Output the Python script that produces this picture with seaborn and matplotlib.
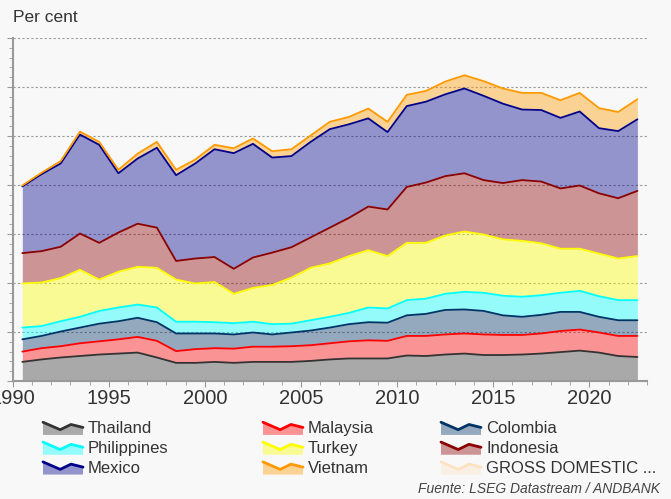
import numpy as np
import pandas as pd
import seaborn as sns
import matplotlib
matplotlib.use("Agg")
import matplotlib.pyplot as plt
from matplotlib.lines import Line2D
from matplotlib.patches import Polygon
from matplotlib.legend_handler import HandlerBase

years = list(range(1990, 2023))

# per-country values (stacked bottom -> top)
thailand = [3.9, 4.4, 4.8, 5.1, 5.4, 5.6, 5.8, 4.8, 3.7, 3.7, 3.9, 3.7, 3.9, 3.9, 3.9, 4.1, 4.4,
            4.6, 4.6, 4.6, 5.2, 5.1, 5.4, 5.6, 5.3, 5.3, 5.4, 5.6, 5.9, 6.2, 5.8, 5.1, 4.9]
malaysia = [2.1, 2.3, 2.3, 2.6, 2.7, 2.9, 3.2, 3.4, 2.4, 2.8, 2.8, 2.9, 3.1, 3.1, 3.2, 3.2, 3.3,
            3.5, 3.7, 3.6, 4.0, 4.1, 4.1, 4.1, 4.2, 4.1, 4.0, 4.1, 4.3, 4.3, 4.1, 4.1, 4.3]
colombia = [2.5, 2.5, 3.0, 3.2, 3.6, 3.7, 3.9, 3.8, 3.6, 3.2, 3.0, 2.9, 2.9, 2.5, 2.8, 3.0, 3.2,
            3.5, 3.7, 3.7, 4.2, 4.5, 5.0, 4.9, 4.8, 4.0, 3.7, 3.8, 3.9, 3.6, 3.2, 3.2, 3.2]
philippines = [2.4, 2.0, 2.1, 2.2, 2.6, 2.8, 2.7, 3.0, 2.4, 2.4, 2.3, 2.3, 2.2, 2.1, 1.8, 2.1, 2.2,
               2.3, 3.0, 2.9, 3.1, 3.1, 3.3, 3.6, 3.7, 4.0, 4.1, 4.0, 3.9, 4.3, 4.2, 4.1, 4.1]
turkey = [9.0, 8.9, 8.8, 9.6, 6.4, 7.3, 7.7, 8.1, 8.6, 7.8, 8.2, 6.0, 6.9, 8.0, 9.4, 10.7, 10.9,
          11.6, 11.7, 10.7, 11.7, 11.4, 11.9, 12.3, 11.9, 11.5, 11.4, 10.6, 9.0, 8.6, 8.7, 8.5, 9.0]
indonesia = [6.2, 6.4, 6.4, 7.4, 7.5, 8.0, 8.8, 8.2, 3.8, 5.1, 5.1, 5.1, 6.2, 6.6, 6.2, 6.2, 7.3,
             7.8, 8.9, 9.5, 11.4, 12.3, 12.1, 11.9, 11.1, 11.5, 12.4, 12.6, 12.3, 12.9, 12.3, 12.3, 13.3]
mexico = [13.6, 15.7, 17.0, 20.2, 20.0, 12.1, 13.3, 16.3, 17.5, 19.4, 22.0, 23.6, 23.2, 19.4, 18.6,
          19.5, 20.1, 19.1, 18.0, 15.8, 16.5, 16.5, 16.7, 17.3, 17.2, 16.2, 14.4, 14.6, 14.4, 15.1,
          13.3, 13.7, 14.6]
vietnam = [0.2, 0.3, 0.5, 0.6, 0.6, 0.7, 1.0, 1.2, 1.1, 0.8, 0.9, 1.0, 1.1, 1.3, 1.4, 1.3, 1.5,
           1.5, 2.0, 2.1, 2.3, 2.2, 2.6, 2.7, 3.0, 3.1, 3.4, 3.5, 3.6, 3.8, 4.1, 3.9, 4.1]

names = ["Thailand", "Malaysia", "Colombia", "Philippines", "Turkey",
         "Indonesia", "Mexico", "Vietnam"]
colors = ["#333333", "#ff0000", "#003366", "#00ffff", "#ffff00",
          "#8b0000", "#00008b", "#ff9900"]
gdp_label = "GROSS DOMESTIC ..."
gdp_color = "#fde2c2"

df = pd.DataFrame(dict(zip(names, [thailand, malaysia, colombia, philippines,
                                    turkey, indonesia, mexico, vietnam])), index=years)
cum = df.cumsum(axis=1)
x = np.array(years) + 0.5

sns.set_style("white")
plt.rcParams["font.family"] = ["Liberation Sans", "DejaVu Sans"]

bg = "#f8f8f8"
fig = plt.figure(figsize=(6.71, 4.99), dpi=100, facecolor=bg)
ax = fig.add_axes([12.7 / 671, 118 / 499, (647 - 12.7) / 671, (381 - 38) / 499])
ax.set_facecolor(bg)

prev = np.zeros(len(years))
for name, col in zip(names, colors):
    top = cum[name].values
    ax.fill_between(x, prev, top, color=col, alpha=0.4, lw=0, zorder=2)
    prev = top
for name, col in zip(names, colors):
    sns.lineplot(x=x, y=cum[name].values, color=col, lw=1.3, ax=ax, zorder=3)

ax.set_xlim(1990, 2023)
ax.set_ylim(0, 70)
ax.set_xticks(range(1990, 2021, 5))
ax.set_xticks(range(1990, 2024), minor=True)
ax.set_yticks(range(0, 71, 10))
ax.set_yticks(range(0, 71, 2), minor=True)
ax.set_yticklabels([])
ax.tick_params(axis="x", which="major", length=4, color="#999999", labelsize=14.5,
               labelcolor="#333333", pad=2, bottom=True)
ax.tick_params(axis="x", which="minor", length=3, color="#999999", bottom=True)
ax.tick_params(axis="y", which="major", length=4, color="#999999", left=True)
ax.tick_params(axis="y", which="minor", length=3, color="#999999", left=True)
ax.grid(False)
for v in range(10, 71, 10):
    ax.axhline(v, color="#999999", lw=0.8, ls=(0, (2, 2)), zorder=1)
for s in ["top", "right"]:
    ax.spines[s].set_visible(False)
for s in ["left", "bottom"]:
    ax.spines[s].set_color("#999999")
    ax.spines[s].set_linewidth(1.5)
ax.set_xlabel("")
ax.set_ylabel("")


class AreaHandler(HandlerBase):
    def create_artists(self, legend, orig_handle, xd, yd, w, h, fontsize, trans):
        col = orig_handle.get_color()
        fx = [0, 0.43, 0.7, 1.0]
        fy = [0.85, 0.35, 0.7, 0.5]
        xs = [-xd + f * w for f in fx]
        ys = [-yd + f * h for f in fy]
        pts = list(zip(xs, ys)) + [(xs[-1], -yd), (xs[0], -yd)]
        poly = Polygon(pts, closed=True, fc=col, alpha=0.4, ec="none", transform=trans)
        line = Line2D(xs, ys, color=col, lw=2, transform=trans)
        return [poly, line]


handles = [Line2D([], [], color=c) for c in colors] + [Line2D([], [], color=gdp_color)]
labels = names + [gdp_label]
# legend laid out row by row, three columns
columns = [[0, 3, 6], [1, 4, 7], [2, 5, 8]]
col_x = [43, 263, 441]
for idx, cx in zip(columns, col_x):
    leg = fig.legend([handles[i] for i in idx], [labels[i] for i in idx],
                     loc="upper left", bbox_to_anchor=(cx / 671, 1 - 420 / 499),
                     frameon=False, fontsize=12, handlelength=2.4, handleheight=1.0,
                     handletextpad=0.3, labelspacing=0.22, borderpad=0, borderaxespad=0,
                     handler_map={Line2D: AreaHandler()})
    for t in leg.get_texts():
        t.set_color("#333333")

fig.text(13 / 671, 1 - 17 / 499, "Per cent", fontsize=12.5, color="#333333", va="center")
fig.text(660 / 671, 1 - 489 / 499, "Fuente: LSEG Datastream / ANDBANK", fontsize=10,
         style="italic", color="#444444", ha="right", va="center")

plt.savefig("out.png", dpi=100, facecolor=bg)
